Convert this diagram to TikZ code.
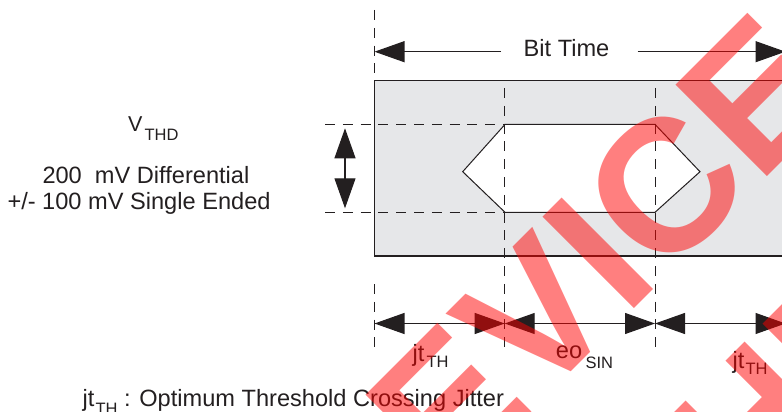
\documentclass[tikz,border=0pt]{standalone}
\usepackage{fontspec}
\setmainfont{Liberation Sans}
\usetikzlibrary{arrows.meta}
\definecolor{ink}{RGB}{35,31,32}
\definecolor{boxgray}{RGB}{230,231,233}
\newcommand{\subtx}[4]{#2\kern#4pt\raisebox{-#1pt}{\fontsize{16.5}{16.5}\selectfont #3}}
\begin{document}
\begin{tikzpicture}[x=1pt,y=-1pt,
  lbl/.style={font=\fontsize{23.6}{28}\selectfont, text=ink, inner sep=0pt, anchor=base west},
  ln/.style={draw=ink, line width=1.1pt},
  dsh/.style={draw=ink, line width=1pt, dash pattern=on 10pt off 7.8pt},
  dim/.style={ln, {Triangle[length=30pt,width=21pt]}-{Triangle[length=30pt,width=21pt]}},
  tipend/.style={ln, -{Triangle[length=30pt,width=21pt]}},
  wm/.style={font=\fontsize{188}{200}\selectfont\bfseries, text=red, text opacity=0.5, inner sep=0pt, rotate=45}
]
\useasboundingbox (0,0) rectangle (782,412);
\clip (0,0) rectangle (782,412);

% gray band
\path[fill=boxgray, ln] (374.5,80.5) rectangle (786,256);

% threshold dashed lines
\coordinate (hl1) at (325,124.4);
\coordinate (hl2) at (325,212.3);
\coordinate (e1) at (505,124.4);
\coordinate (e2) at (655,124.4);
\coordinate (e3) at (700,171.7);
\coordinate (e4) at (655,212.3);
\coordinate (e5) at (505,212.3);
\coordinate (e6) at (462.7,171.7);
\draw[dsh] (hl1) -- (e1);
\draw[dsh] (hl2) -- (e5);

% eye opening
\path[fill=white, draw=ink, line width=1pt] (e1) -- (e2) -- (e3) -- (e4) -- (e5) -- (e6) -- cycle;

% vertical dashed lines
\coordinate (d0a) at (374.5,10);
\coordinate (d0b) at (374.5,80.5);
\coordinate (d0c) at (374.5,284);
\coordinate (d0d) at (374.5,354);
\coordinate (d1a) at (504.7,88);
\coordinate (d1b) at (504.7,354);
\coordinate (d2a) at (655,88);
\coordinate (d2b) at (655,354);
\draw[dsh] (d0a) -- (d0b);
\draw[dsh] (d0c) -- (d0d);
\draw[dsh] (d1a) -- (d1b);
\draw[dsh] (d2a) -- (d2b);

% Bit Time
\node[lbl, anchor=base] (bt) at (566.5,56.7) {Bit Time};
\coordinate (btL) at (374.5,51.7);
\coordinate (btA) at (501,51.7);
\coordinate (btB) at (637.7,51.7);
\coordinate (btR) at (785.5,51.7);
\draw[tipend] (btA) -- (btL);
\draw[tipend] (btB) -- (btR);

% V_THD arrow
\coordinate (va) at (345,128.3);
\coordinate (vb) at (345,208.3);
\draw[dim] (va) -- (vb);

% bottom dimension arrows
\coordinate (b0) at (374.5,323.5);
\coordinate (b1) at (504.7,323.5);
\coordinate (b2) at (655,323.5);
\coordinate (b3) at (785.5,323.5);
\draw[dim] (b0) -- (b1);
\draw[dim] (b1) -- (b2);
\draw[dim] (b2) -- (b3);

% labels
\node[lbl, font=\fontsize{21.5}{26}\selectfont] (vthd) at (128,131.7) {\subtx{8.3}{V}{THD}{2}};
\node[lbl] (diff) at (42.3,183.3) {200~~mV Differential};
\node[lbl] (se) at (7.3,209.5) {+/- 100 mV Single Ended};
\node[lbl] (jt1) at (412.5,361) {\subtx{6.7}{jt}{TH}{2}};
\node[lbl] (eo) at (555.7,358.8) {\subtx{9.2}{eo}{SIN}{3.5}};
\node[lbl] (jt3) at (732.5,368) {\subtx{6}{jt}{TH}{1}};
\node[lbl] (note) at (82.5,406.5) {\subtx{8}{jt}{TH}{1} : Optimum Threshold Crossing Jitter};

% watermark
\node[wm, anchor=base east] (wm1) at (847.1,96.2) {DEVICE};
\node[wm, anchor=base west] (wm2) at (749.5,520.4) {HE};
\end{tikzpicture}
\end{document}
